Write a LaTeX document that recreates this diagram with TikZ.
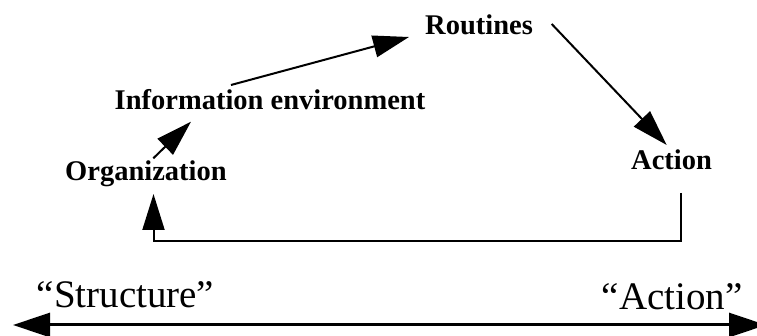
\documentclass[tikz,border=0pt]{standalone}
\usepackage{fontspec}
\setmainfont{Liberation Serif}
\usetikzlibrary{arrows.meta}
\begin{document}
\begin{tikzpicture}[x=1pt,y=-1pt,
  lbl/.style={anchor=base west,inner sep=0pt,font=\fontsize{28.5}{30}\selectfont\bfseries},
  big/.style={anchor=base west,inner sep=0pt,font=\fontsize{39}{40}\selectfont},
  conn/.style={line width=2pt,-{Triangle[length=36pt,width=22pt]}},
  axis/.style={line width=3pt,{Triangle[length=37pt,width=24pt]}-{Triangle[length=37pt,width=24pt]}}]
\useasboundingbox (0,0) rectangle (757,336);
\node[lbl] (rout) at (425,35) {Routines};
\node[lbl] (info) at (114.5,109.5) {Information environment};
\node[lbl] (org) at (65,181) {Organization};
\node[lbl] (act) at (631,169.5) {Action};
\node[big] (st) at (36.5,308) {“Structure”};
\node[big] (ac) at (601.5,310) {“Action”};
\coordinate (a1s) at (153.3,158.3);
\coordinate (a1e) at (191,121.7);
\coordinate (a2s) at (231,85);
\coordinate (a2e) at (409,37);
\coordinate (a3s) at (551.7,24);
\coordinate (a3e) at (666.7,145);
\coordinate (fbs) at (681,193);
\coordinate (fbc) at (681,241);
\coordinate (fbd) at (153.5,241);
\coordinate (fbe) at (153.5,194);
\coordinate (axl) at (13,325);
\coordinate (axr) at (766,325);
\draw[conn] (a1s) -- (a1e);
\draw[conn] (a2s) -- (a2e);
\draw[conn] (a3s) -- (a3e);
\draw[conn] (fbs) -- (fbc) -- (fbd) -- (fbe);
\draw[axis] (axl) -- (axr);
\end{tikzpicture}
\end{document}
